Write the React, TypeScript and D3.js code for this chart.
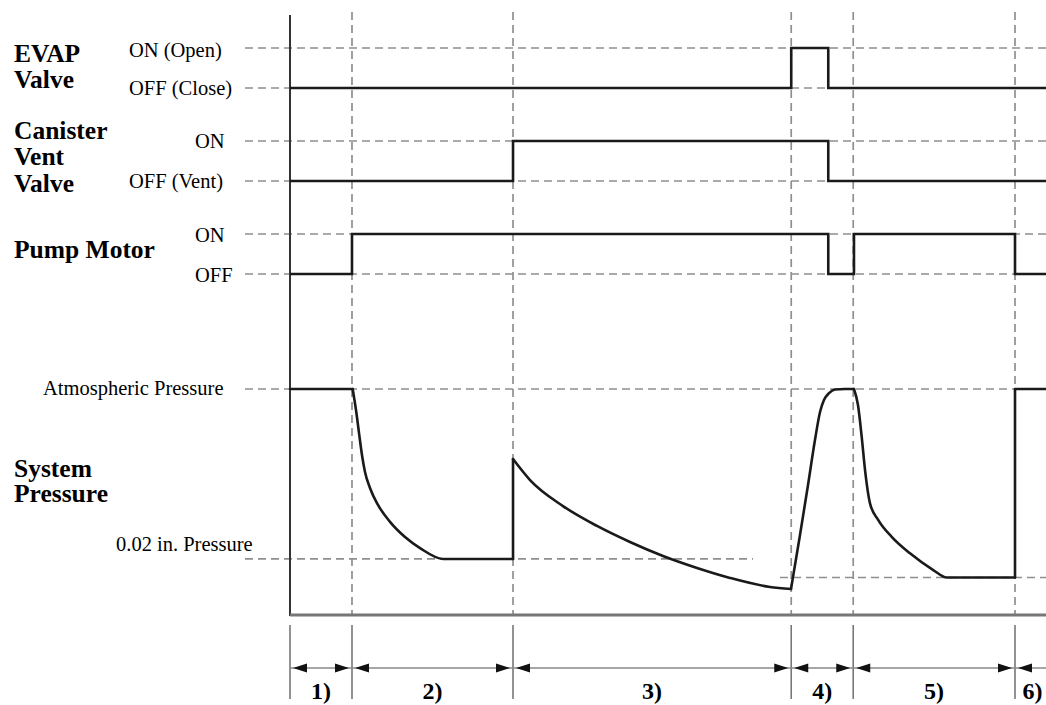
import React from "react";
import * as d3 from "d3";

// ---- data (time in arbitrary units 0..100, pressure on a 0..100 scale, 100 = atmospheric) ----
const phaseBounds = [0, 8.2, 29.5, 66.3, 74.5, 95.9, 100.5];
const phaseLabels = ["1)", "2)", "3)", "4)", "5)", "6)"];

const evapValve = [[0, 0], [66.3, 1], [71.2, 0], [100, 0]];
const ventValve = [[0, 0], [29.5, 1], [71.2, 0], [100, 0]];
const pumpMotor = [[0, 0], [8.2, 1], [71.2, 0], [74.6, 1], [95.9, 0], [100, 0]];

const signalNames = [["EVAP", "Valve"], ["Canister", "Vent", "Valve"], ["Pump Motor"]];
const signalStates = [["ON (Open)", "OFF (Close)"], ["ON", "OFF (Vent)"], ["ON", "OFF"]];

const atmosphericLevel = 100;
const targetLevel = 24.8;
const lowLevel = 16.6;

// pressure curve pieces [t, p]
const pressureHold = [[0, 100], [8.29, 100]];
const pressureDrop1 = [[8.29, 100], [8.73, 90.7], [9.13, 80.5], [9.52, 70.8], [9.92, 63.3], [10.58, 56.2], [11.64, 48.7], [13.23, 41.2], [15.21, 34.5], [17.2, 29.6], [20.24, 24.8], [29.5, 24.8]];
const pressureJump1 = [[29.5, 24.8], [29.5, 69.0]];
const pressureDecay = [[29.5, 69.0], [31.75, 59.7], [36.11, 48.2], [40.61, 39.4], [44.97, 32.3], [49.34, 26.1], [53.84, 20.8], [58.2, 16.4], [63.49, 12.4], [66.27, 11.5]];
const pressureRise = [[66.27, 11.5], [67.46, 35.4], [68.52, 57.5], [69.44, 77.4], [70.11, 89.8], [70.63, 95.1], [71.3, 98.2], [72.09, 99.8], [73.41, 100], [74.6, 100]];
const pressureDrop2 = [[74.6, 100], [75.13, 92.9], [75.62, 78.9], [76.06, 64.2], [76.72, 49.4], [77.82, 42.0], [79.59, 34.6], [82.01, 27.3], [85.09, 19.9], [86.86, 16.6], [95.9, 16.6]];
const pressureJump2 = [[95.9, 16.6], [95.9, 100], [100, 100]];

const pressureSmooth = [pressureDrop1, pressureDecay, pressureRise, pressureDrop2];
const pressureStraight = [pressureHold, pressureJump1, pressureJump2];

export default function App() {
  const W = 1046, H = 705;
  const x = d3.scaleLinear().domain([0, 100]).range([290, 1046]);
  const rowOff = [88, 181, 274];
  const rowAmp = 40;
  const yP = d3.scaleLinear().domain([0, 100]).range([615, 389]);

  const serif = "'Liberation Serif', 'Times New Roman', serif";
  const dashColor = "#8f8f8f";
  const sigColor = "#1a1a1a";

  const stepLine = (row: number) =>
    d3.line<number[]>()
      .x(d => x(d[0]))
      .y(d => rowOff[row] - d[1] * rowAmp)
      .curve(d3.curveStepAfter);

  const smoothLine = d3.line<number[]>().x(d => x(d[0])).y(d => yP(d[1])).curve(d3.curveMonotoneX);
  const straightLine = d3.line<number[]>().x(d => x(d[0])).y(d => yP(d[1]));

  const signals = [evapValve, ventValve, pumpMotor];

  const nameLines = [
    { x: 14, ys: [62, 88] },
    { x: 14, ys: [139, 165, 192] },
    { x: 14, ys: [258] },
  ];
  const stateLabels = [
    [{ x: 129, y: 57 }, { x: 129, y: 95 }],
    [{ x: 195, y: 148 }, { x: 129, y: 188 }],
    [{ x: 195, y: 242 }, { x: 195, y: 282 }],
  ];

  const arrowY = 668;
  const arrow = (tipX: number, dir: number, key: string) => {
    const len = 14, half = 4.5;
    return (
      <path
        key={key}
        d={`M${tipX},${arrowY} L${tipX - dir * len},${arrowY - half} L${tipX - dir * len},${arrowY + half} Z`}
        fill="#111"
      />
    );
  };

  const boldSize = 25.5;
  const regSize = 20.5;

  return (
    <svg width={W} height={H} style={{ position: "absolute", left: 0, top: 0, background: "#fff" }}>
      <rect x={0} y={0} width={W} height={H} fill="#fff" />

      {rowOff.map((off, i) => (
        <g key={"hd" + i}>
          <line x1={245} x2={W} y1={off - rowAmp} y2={off - rowAmp} stroke={dashColor} strokeWidth={1.7} strokeDasharray="8,5" />
          <line x1={245} x2={W} y1={off} y2={off} stroke={dashColor} strokeWidth={1.7} strokeDasharray="8,5" />
        </g>
      ))}
      <line x1={245} x2={W} y1={yP(atmosphericLevel)} y2={yP(atmosphericLevel)} stroke={dashColor} strokeWidth={1.7} strokeDasharray="8,5" />
      <line x1={245} x2={753} y1={yP(targetLevel)} y2={yP(targetLevel)} stroke={dashColor} strokeWidth={1.7} strokeDasharray="8,5" />
      <line x1={780} x2={W} y1={yP(lowLevel)} y2={yP(lowLevel)} stroke={dashColor} strokeWidth={1.7} strokeDasharray="8,5" />

      {phaseBounds.slice(1, 6).map((t, i) => (
        <line key={"vd" + i} x1={x(t)} x2={x(t)} y1={12} y2={615} stroke={dashColor} strokeWidth={1.7} strokeDasharray="8,5" />
      ))}

      <line x1={290} x2={290} y1={15} y2={616} stroke="#333" strokeWidth={2} />
      <line x1={290} x2={W} y1={615} y2={615} stroke="#777" strokeWidth={3} />

      {signals.map((s, i) => (
        <path key={"sig" + i} d={stepLine(i)(s) || ""} fill="none" stroke={sigColor} strokeWidth={2.6} />
      ))}

      {pressureStraight.map((s, i) => (
        <path key={"ps" + i} d={straightLine(s) || ""} fill="none" stroke={sigColor} strokeWidth={2.6} strokeLinecap="round" strokeLinejoin="round" />
      ))}
      {pressureSmooth.map((s, i) => (
        <path key={"pc" + i} d={smoothLine(s) || ""} fill="none" stroke={sigColor} strokeWidth={2.6} strokeLinecap="round" strokeLinejoin="round" />
      ))}

      {signalNames.map((lines, i) =>
        lines.map((ln, j) => (
          <text key={`n${i}-${j}`} x={nameLines[i].x} y={nameLines[i].ys[j]} fontFamily={serif} fontWeight="bold" fontSize={boldSize} fill="#000">
            {ln}
          </text>
        ))
      )}
      <text x={14} y={477} fontFamily={serif} fontWeight="bold" fontSize={boldSize} fill="#000">System</text>
      <text x={14} y={502} fontFamily={serif} fontWeight="bold" fontSize={boldSize} fill="#000">Pressure</text>

      {signalStates.map((pair, i) =>
        pair.map((lbl, j) => (
          <text key={`s${i}-${j}`} x={stateLabels[i][j].x} y={stateLabels[i][j].y} fontFamily={serif} fontSize={regSize} fill="#000">
            {lbl}
          </text>
        ))
      )}
      <text x={43} y={395} fontFamily={serif} fontSize={regSize} fill="#000">Atmospheric Pressure</text>
      <text x={116} y={551} fontFamily={serif} fontSize={regSize} fill="#000">0.02 in. Pressure</text>

      {phaseBounds.slice(0, 6).map((t, i) => (
        <line key={"pv" + i} x1={x(t)} x2={x(t)} y1={625} y2={699} stroke="#777" strokeWidth={1.6} />
      ))}
      <line x1={290} x2={W} y1={arrowY} y2={arrowY} stroke="#888" strokeWidth={1.6} />
      {phaseLabels.map((lbl, i) => {
        const a = x(phaseBounds[i]);
        const b = x(phaseBounds[i + 1]);
        const items = [arrow(a + 3, -1, "al" + i)];
        if (i < phaseLabels.length - 1) items.push(arrow(b - 3, 1, "ar" + i));
        return (
          <g key={"ph" + i}>
            {items}
            <text x={(a + b) / 2} y={699} textAnchor="middle" fontFamily={serif} fontWeight="bold" fontSize={24} fill="#000">
              {lbl}
            </text>
          </g>
        );
      })}
    </svg>
  );
}
